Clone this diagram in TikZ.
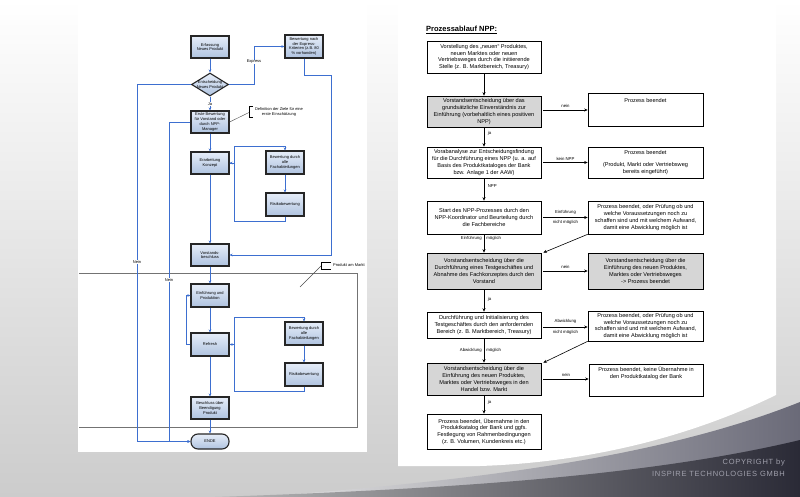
\documentclass[tikz,border=0pt]{standalone}
\usepackage{fontspec}
\setmainfont{Liberation Sans}
\newfontfamily\cpfont[LetterSpace=10]{Liberation Sans}
\usetikzlibrary{shapes.geometric,arrows.meta,calc}
\definecolor{lblue}{HTML}{3D6FD0}
\definecolor{btop}{HTML}{E6EDF8}
\definecolor{bbot}{HTML}{AFC3E0}
\definecolor{rgray}{HTML}{D6D6D6}
\definecolor{darkb}{HTML}{2A2A36}
\definecolor{midb}{HTML}{6A6A78}
\definecolor{cptext}{HTML}{A0A0AC}
\newcommand\lfnt{\fontsize{4}{4.7}\selectfont}
\newcommand\rfnt{\fontsize{5.6}{6.8}\selectfont}
\newcommand\labfnt{\fontsize{4.3}{5}\selectfont}
\tikzset{
 lbox/.style={draw=black!85, line width=1.1pt, top color=btop, bottom color=bbot, minimum width=38pt, minimum height=22pt, inner sep=0pt, align=center, font=\lfnt},
 lconn/.style={draw=lblue, line width=0.7pt, -{Stealth[length=3pt,width=2.6pt]}},
 lline/.style={draw=lblue, line width=0.7pt},
 llab/.style={fill=white, inner sep=0.5pt, font=\lfnt},
 rbox/.style={draw=black, line width=0.6pt, fill=white, minimum width=114pt, inner sep=0pt, align=center, font=\rfnt},
 rgbox/.style={rbox, fill=rgray},
 rconn/.style={draw=black, line width=0.6pt, -{Stealth[length=3.5pt,width=3pt]}},
 rlab/.style={font=\labfnt, inner sep=0.5pt},
}
\begin{document}
\begin{tikzpicture}[x=1pt,y=-1pt]
\useasboundingbox (0,0) rectangle (800,497);
% background
\shade[top color=white, middle color=black!4, bottom color=black!20] (0,0) rectangle (800,497);
\fill[white] (78,0) rectangle (367,452);
\fill[white] (398,0) -- (776,0) -- (776,395) .. controls (700,432) and (600,462) .. (480,466) -- (398,466) -- cycle;
\shade[left color=black!10, right color=midb] (260,497) .. controls (450,482) and (650,462) .. (800,402) -- (800,497) -- cycle;
\shade[left color=black!28, right color=darkb] (215,497) .. controls (450,489) and (650,476) .. (800,440) -- (800,497) -- cycle;
\node[anchor=east, text=cptext, font=\cpfont\fontsize{7.5}{9}\selectfont, inner sep=0pt] (cp1) at (785,463) {COPYRIGHT by};
\node[anchor=east, text=cptext, font=\cpfont\fontsize{7.5}{9}\selectfont, inner sep=0pt] (cp2) at (785,474) {INSPIRE TECHNOLOGIES GMBH};

% ---------------- left flowchart ----------------
\draw[black!55, line width=0.6pt] (79,273) -- (357,273) -- (357,427) -- (79,427);
\draw[black, line width=1pt] (331,262) -- (321,262) -- (321,269) -- (331,269);
\draw[black!70, line width=0.4pt] (321,266) -- (300,287);
\begin{scope}
\clip (78,0) rectangle (367,452);
\node[anchor=west, font=\lfnt, inner sep=0pt] (pam) at (333,265.5) {Produkt am Markt};
\end{scope}

\node[lbox] (e1) at (210,47) {Erfassung\\Neues Produkt};
\node[diamond, draw=black!85, line width=1.1pt, top color=btop, bottom color=bbot, minimum width=37pt, minimum height=23pt, inner sep=0pt] (d1) at (210,84.5) {};
\node[font=\lfnt, align=center, inner sep=0pt] (d1t) at (d1.center) {Entscheidung\\Neues Produkt};
\node[lbox, minimum height=23pt] (x1) at (304,46.5) {Bewertung nach\\der Express-\\Kriterien (z.B. 80\\\% vorhanden)};
\node[lbox] (b1) at (210,122) {Erste Bewertung\\für Vorstand oder\\durch NPP-\\Manager};
\node[lbox] (k1) at (210,163) {Erarbeitung\\Konzept};
\node[lbox, minimum height=23pt] (f1) at (285,162.5) {Bewertung durch\\alle\\Fachabteilungen};
\node[lbox, minimum height=23pt] (r1) at (285,204.5) {Risikobewertung};
\node[lbox] (v1) at (210,255) {Vorstands-\\beschluss};
\node[lbox, minimum height=23pt] (p1) at (210,295.5) {Einführung und\\Produktion};
\node[lbox, minimum height=23pt] (rf) at (210,344.5) {Refresh};
\node[lbox, minimum height=23pt] (f2) at (304,333.5) {Bewertung durch\\alle\\Fachabteilungen};
\node[lbox, minimum height=23pt] (r2) at (304,374.5) {Risikobewertung};
\node[lbox] (be) at (210,408) {Beschluss über\\Beendigung\\Produkt};
\node[lbox, minimum height=15pt, rounded corners=7pt] (en) at (210,441.5) {ENDE};

% annotation
\draw[black, line width=1pt] (253,107) -- (249,107) -- (249,118) -- (253,118);
\draw[black!70, line width=0.4pt] (249,112.5) -- (b1.east);
\node[font=\lfnt, align=center, inner sep=0pt] (ann1) at (279,112) {Definition der Ziele für eine\\erste Einschätzung};

% left connectors
\draw[lconn] (e1.south) -- (d1.north);
\draw[lconn] (d1.south) -- (b1.north);
\node[llab] (lja) at (210,104) {Ja};
\draw[lconn] (d1.east) -- (254,84.5) |- (x1.west);
\node[llab] (lex) at (254,62) {Express};
\draw[lconn] (x1.south) -- (304,75) -- (331,75) |- (v1.east);
\draw[lconn] (d1.west) -- (137,84.5) |- (en.west);
\node[llab] (ln1) at (137,262) {Nein};
\draw[lconn] (b1.west) -- (169,122) |- (en.west);
\node[llab] (ln2) at (169,280) {Nein};
\draw[lconn] (b1.south) -- (k1.north);
\draw[lconn] (k1.east) -- (234,163) -- (234,146) -| (f1.north);
\draw[lconn] (f1.south) -- (r1.north);
\draw[lconn] (r1.south) -- (285,221) -| (234,163) -- (k1.east);
\draw[lconn] (k1.south) -- (v1.north);
\draw[lconn] (v1.south) -- (p1.north);
\draw[lconn] (p1.south) -- (rf.north);
\draw[lconn] (rf.west) -- (186,344.5) |- (p1.west);
\draw[lconn] (rf.east) -- (234,344.5) -- (234,317) -| (f2.north);
\draw[lconn] (f2.south) -- (r2.north);
\draw[lconn] (r2.south) -- (304,391) -| (234,344.5) -- (rf.east);
\draw[lconn] (rf.south) -- (be.north);
\draw[lconn] (be.south) -- (en.north);

% ---------------- right flowchart ----------------
\node[anchor=west, font=\fontsize{7.5}{9}\selectfont\bfseries, inner sep=0pt] (title) at (426,30) {\underline{Prozessablauf NPP:}};

\node[rbox, minimum height=32pt] (q1) at (484,57) {Vorstellung des „neuen“ Produktes,\\neuen Marktes oder neuen\\Vertriebsweges durch die initiierende\\Stelle (z. B. Marktbereich, Treasury)};
\node[rgbox, minimum height=31pt] (q2) at (484,111.5) {Vorstandsentscheidung über das\\grundsätzliche Einverständnis zur\\Einführung (vorbehaltlich eines positiven\\NPP)};
\node[rbox, minimum width=115pt, minimum height=33pt] (q3) at (645.5,109.5) {};
\node[font=\rfnt, inner sep=0pt] (q3t) at (645.5,100) {Prozess beendet};
\node[rbox, minimum height=31pt] (q4) at (484,162.5) {Vorabanalyse zur Entscheidungsfindung\\für die Durchführung eines NPP (u. a. auf\\Basis des Produktkataloges der Bank\\bzw. Anlage 1 der AAW)};
\node[rbox, minimum width=115pt, minimum height=31pt] (q5) at (645.5,162.5) {Prozess beendet\\[6pt](Produkt, Markt oder Vertriebsweg\\bereits eingeführt)};
\node[rbox, minimum height=33pt] (q6) at (484,217.5) {Start des NPP-Prozesses durch den\\NPP-Koordinator und Beurteilung durch\\die Fachbereiche};
\node[rbox, minimum width=115pt, minimum height=33pt] (q7) at (645.5,217.5) {Prozess beendet, oder Prüfung ob und\\welche Voraussetzungen noch zu\\schaffen sind und mit welchem Aufwand,\\damit eine Abwicklung möglich ist};
\node[rgbox, minimum height=36pt] (q8) at (484,271) {Vorstandsentscheidung über die\\Durchführung eines Testgeschäftes und\\Abnahme des Fachkonzeptes durch den\\Vorstand};
\node[rgbox, minimum width=115pt, minimum height=36pt] (q9) at (645.5,271) {Vorstandsentscheidung über die\\Einführung des neuen Produktes,\\Marktes oder Vertriebsweges\\-> Prozess beendet};
\node[rbox, minimum height=26pt] (q10) at (484,325) {Durchführung und Initialisierung des\\Testgeschäftes durch den anfordernden\\Bereich (z. B. Marktbereich, Treasury)};
\node[rbox, minimum width=115pt, minimum height=30pt] (q11) at (645.5,326) {Prozess beendet, oder Prüfung ob und\\welche Voraussetzungen noch zu\\schaffen sind und mit welchem Aufwand,\\damit eine Abwicklung möglich ist};
\node[rgbox, minimum height=32pt] (q12) at (484,379) {Vorstandsentscheidung über die\\Einführung des neuen Produktes,\\Marktes oder Vertriebsweges in den\\Handel bzw. Markt};
\node[rbox, minimum height=32pt] (q13) at (646,380) {};
\node[font=\rfnt, align=center, inner sep=0pt] (q13t) at (646,373.5) {Prozess beendet, keine Übernahme in\\den Produktkatalog der Bank};
\node[rbox, minimum height=35pt] (q14) at (484,431.5) {Prozess beendet, Übernahme in den\\Produktkatalog der Bank und ggfs.\\Festlegung von Rahmenbedingungen\\(z. B. Volumen, Kundenkreis etc.)};

% right connectors
\draw[rconn] (q1.south) -- (q2.north);
\draw[rconn] ($(q2.east)+(2,-1.5)$) -- ($(q2.east -| q3.west)+(0,-1.5)$) node[midway, above=1.5pt, rlab] (l1) {nein};
\draw[rconn] (q2.south) -- (q4.north) node[pos=0.3, right=3pt, rlab] (l2) {ja};
\draw[rconn] ($(q4.east)+(2,0)$) -- (q5.west) node[midway, above=1.5pt, rlab] (l3) {kein NPP};
\draw[rconn] (q4.south) -- (q6.north) node[pos=0.35, right=3pt, rlab] (l4) {NPP};
\draw[rconn] ($(q6.east)+(2,0)$) -- (q7.west) node[midway, above=2.5pt, rlab] (l5) {Einführung} node[midway, below=2.5pt, rlab] (l6) {nicht möglich};
\draw[rconn] (q6.south) -- (q8.north) node[pos=0.22, left=1.5pt, rlab] (l7) {Einführung} node[pos=0.22, right=1.5pt, rlab] (l8) {möglich};
\draw[rconn] (q7.south west) -- ($(q8.north east)+(2,0)$);
\draw[rconn] ($(q8.east)+(2,0)$) -- (q9.west) node[midway, above=1.5pt, rlab] (l9) {nein};
\draw[rconn] (q8.south) -- (q10.north) node[pos=0.43, right=3pt, rlab] (l10) {ja};
\draw[rconn] ($(q10.east)+(2,2)$) -- ($(q10.east -| q11.west)+(0,2)$) node[midway, above=2.5pt, rlab] (l11) {Abwicklung} node[midway, below=2.5pt, rlab] (l12) {nicht möglich};
\draw[rconn] (q10.south) -- (q12.north) node[pos=0.5, left=1.5pt, rlab] (l13) {Abwicklung} node[pos=0.5, right=1.5pt, rlab] (l14) {möglich};
\draw[rconn] (q11.south west) -- ($(q12.north east)+(2,0)$);
\draw[rconn] ($(q12.east)+(2,0)$) -- ($(q12.east -| q13.west)$) node[midway, above=1.5pt, rlab] (l15) {nein};
\draw[rconn] (q12.south) -- (q14.north) node[pos=0.37, right=3pt, rlab] (l16) {ja};
\end{tikzpicture}
\end{document}
